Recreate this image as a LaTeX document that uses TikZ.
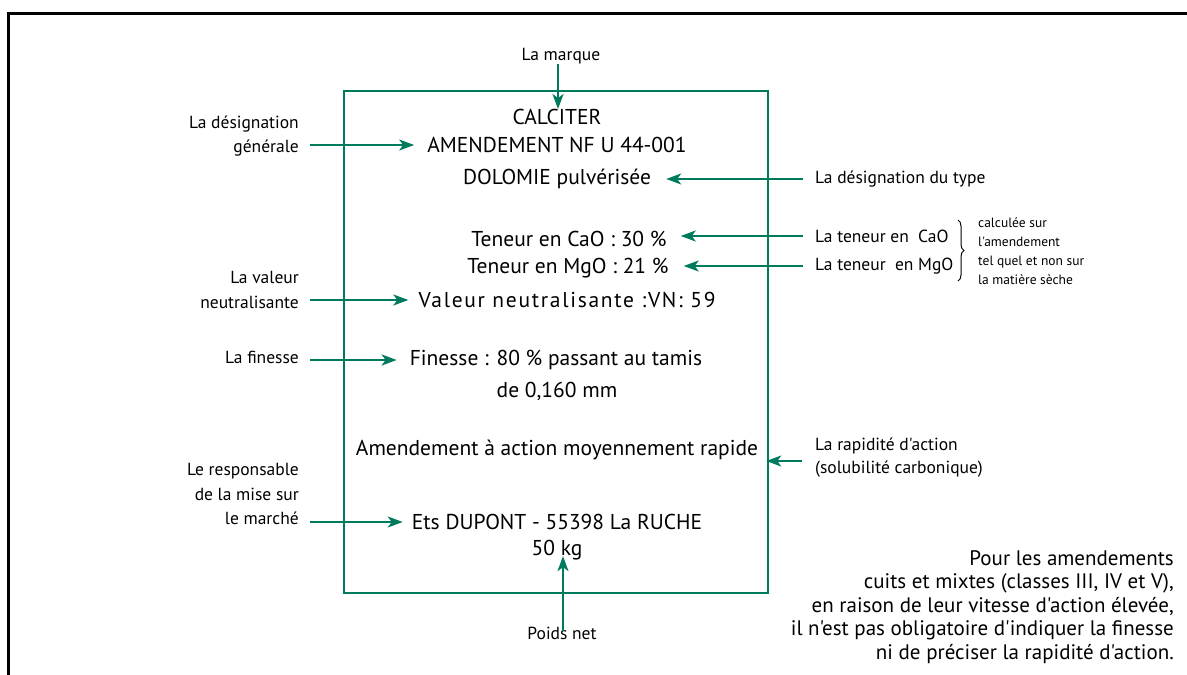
\documentclass[tikz,border=0pt]{standalone}
\usepackage{fontspec}
\setmainfont{PT Sans}[Ligatures=TeXOff]
\usetikzlibrary{arrows.meta, decorations.pathreplacing}
\definecolor{vert}{RGB}{0,122,92}
\tikzstyle{txt} = [inner sep=0pt, font=\fontsize{21.5}{25}\selectfont]
\tikzstyle{lab} = [inner sep=0pt, align=right, anchor=east, font=\fontsize{17.5}{24.5}\selectfont]
\tikzstyle{labr} = [inner sep=0pt, align=left, anchor=west, font=\fontsize{17.5}{23}\selectfont]
\tikzstyle{small} = [inner sep=0pt, align=left, anchor=west, font=\fontsize{13.5}{19}\selectfont]
\tikzstyle{line} = [draw=vert, line width=2pt, -{Stealth[length=15pt,width=11pt,inset=4pt]}]

\begin{document}
\begin{tikzpicture}[x=1pt, y=-1pt]
	\useasboundingbox (0,0) rectangle (1187,675);
	\draw [line width=3pt] (8,675) -- (8,13) -- (1187,13);
	
	% Place nodes
	\node [draw=vert, line width=2.5pt, minimum width=424pt, minimum height=502pt, inner sep=0pt] (etiq) at (556,342) {};
	\node [txt] (calciter)	at (557,117)	{CALCITER};
	\node [txt] (amend)		at (557,145)	{AMENDEMENT NF U 44-001};
	\node [txt] (dolomie)	at (557,179)	{DOLOMIE pulvérisée};
	\node [txt] (cao)		at (569,239)	{Teneur en CaO : 30 \%};
	\node [txt] (mgo)		at (568,268)	{Teneur en MgO : 21 \%};
	\node [txt] (vn)		at (567,300)	{\addfontfeature{LetterSpace=8}Valeur neutralisante :VN: 59};
	\node [txt] (finesse)	at (556,360)	{Finesse : 80 \% passant au tamis};
	\node [txt] (tamis)		at (557,391)	{de 0,160 mm};
	\node [txt] (rapide)	at (557,450)	{Amendement à action moyennement rapide};
	\node [txt] (dupont)	at (557,522)	{Ets DUPONT - 55398 La RUCHE};
	\node [txt] (kg)		at (557,550)	{50 kg};
	
	\node [lab, anchor=center] (Lmarque) at (561,56)	{La marque};
	\node [lab] (Lgen)		at (299,136)	{La désignation\\générale};
	\node [lab] (Lvn)		at (299,290)	{La valeur\\neutralisante};
	\node [lab] (Lfin)		at (299,357)	{La finesse};
	\node [lab] (Lresp)		at (299,494)	{Le responsable\\de la mise sur\\le marché};
	\node [lab, anchor=center] (Lpoids) at (562,633)	{Poids net};
	\node [labr] (Ltype)	at (815,179)	{La désignation du type};
	\node [labr] (Lcao)		at (815,236)	{La teneur en\ \ CaO};
	\node [labr] (Lmgo)		at (815,266)	{La teneur\ \ en MgO};
	\node [labr] (Lrap)		at (815,458)	{La rapidité d'action\\(solubilité carbonique)};
	\node [small] (Lsec)	at (978,251)	{calculée sur\\l'amendement\\tel quel et non sur\\la matière sèche};
	\node [inner sep=0pt, align=right, anchor=east, font=\fontsize{21}{23.4}\selectfont] (Lnote) at (1174,607)
		{Pour les amendements\\cuits et mixtes (classes III, IV et V),\\en raison de leur vitesse d'action élevée,\\il n'est pas obligatoire d'indiquer la finesse\\ni de préciser la rapidité d'action.};
	
	%Draw edges
	\path [line] ([xshift=-3pt]Lmarque.south)	--	([xshift=-3pt]Lmarque.south |- calciter.north);
	\path [line] ([xshift=11pt]Lgen.east |- amend.west)	--	([xshift=-13pt]amend.west);
	\path [line] ([xshift=-12pt]Ltype.west)	--	([xshift=15pt]dolomie.east);
	\path [line] ([xshift=-12pt]Lcao.west)	--	([xshift=14pt]Lcao.west -| cao.east);
	\path [line] ([xshift=-12pt]Lmgo.west)	--	([xshift=15pt]Lmgo.west -| mgo.east);
	\path [line] ([xshift=11pt]Lvn.east |- vn.west)	--	([xshift=-10pt]vn.west);
	\path [line] ([xshift=11pt]Lfin.east |- finesse.west)	--	([xshift=-13pt]finesse.west);
	\path [line] ([xshift=-13pt,yshift=-3pt]Lrap.west)	--	([xshift=8pt,yshift=-3pt]Lrap.west -| rapide.east);
	\path [line] ([xshift=11pt]Lresp.east |- dupont.west)	--	([xshift=-9pt]dupont.west);
	\path [line] ([xshift=1pt,yshift=-4pt]Lpoids.north)	--	([xshift=1pt,yshift=4pt]Lpoids.north |- kg.south);
	\draw [decorate, decoration={brace, amplitude=6pt}, line width=1pt] (958,220) -- (958,281);
	
\end{tikzpicture}
\end{document}
